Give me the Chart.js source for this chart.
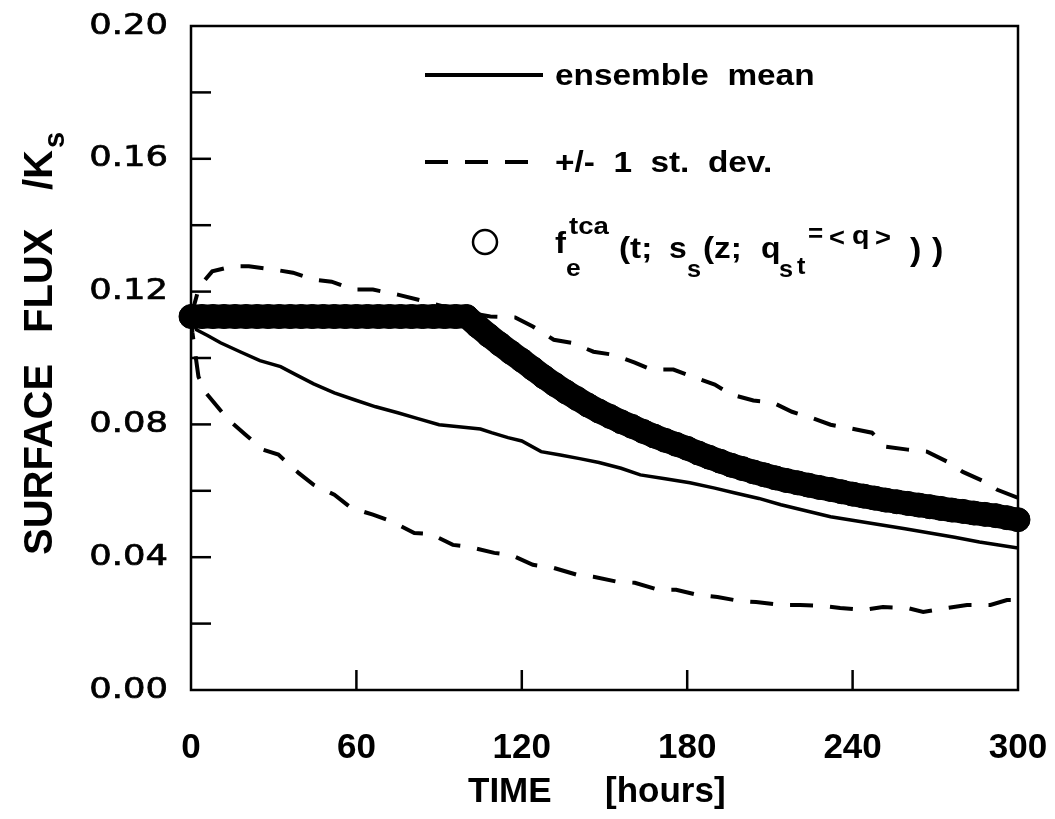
<!DOCTYPE html>
<html lang="en">
<head>
<meta charset="UTF-8">
<title>Surface flux / Ks versus time</title>
<script src="https://cdn.jsdelivr.net/npm/chart.js"></script>
<style>
body { margin: 0; background: #fff; }
#wrap { width: 1055px; height: 819px; }
</style>
</head>
<body>
<div id="wrap"><canvas id="fluxChart" width="1055" height="819"></canvas></div>
<script>
// axis tick labels
const timeTicks = [0, 60, 120, 180, 240, 300];
const fluxTicks = [0.00, 0.04, 0.08, 0.12, 0.16, 0.20];

// ensemble mean (solid)
const meanTime = [0, 2, 6, 10.7, 18, 25, 32.5, 38, 44.5, 52, 59, 67, 75, 82, 90, 98, 105, 109, 115, 120,
  127, 134, 141, 148, 156, 163, 172, 181, 190, 197, 206, 214, 223, 232, 241, 250, 259, 268, 277, 286, 293, 300];
const meanFlux = [0.1125, 0.1085, 0.1068, 0.1046, 0.1018, 0.0992, 0.0974, 0.0950, 0.0922, 0.0895, 0.0875,
  0.0853, 0.0835, 0.0818, 0.0799, 0.0792, 0.0786, 0.0775, 0.0760, 0.0750, 0.0718, 0.0708, 0.0697, 0.0685,
  0.0668, 0.0648, 0.0636, 0.0624, 0.0608, 0.0594, 0.0577, 0.0558, 0.0540, 0.0522, 0.0510, 0.0498, 0.0486,
  0.0473, 0.0460, 0.0446, 0.0437, 0.0428];

// mean + 1 st. dev. (dashed)
const upperTime = [0, 3, 7.7, 15, 21, 29.6, 37, 44.5, 51, 59, 66, 75, 85, 95, 102, 108.6, 117.6, 124, 131.6,
  138, 146, 153, 161, 167, 175, 182, 190, 196, 204, 211, 218, 225, 232, 238, 247, 252, 260, 267, 275, 280,
  288, 292.5, 300];
const upperFlux = [0.1125, 0.1215, 0.1261, 0.1276, 0.1276, 0.1267, 0.1257, 0.1236, 0.1230, 0.1206, 0.1206,
  0.1191, 0.1170, 0.1148, 0.1135, 0.1125, 0.1122, 0.1095, 0.1055, 0.1046, 0.1019, 0.1010, 0.0986, 0.0965,
  0.0965, 0.0944, 0.0920, 0.0890, 0.0872, 0.0866, 0.0838, 0.0820, 0.0799, 0.0790, 0.0775, 0.0733, 0.0724,
  0.0718, 0.0685, 0.0657, 0.0627, 0.0603, 0.0579];

// mean - 1 st. dev. (dashed)
const lowerTime = [0, 0.5, 1.6, 2.7, 5.3, 9.6, 13.6, 19.8, 26, 31.7, 39, 44.5, 52, 58, 66, 73, 81, 87, 95,
  101, 110, 116, 124, 131.5, 140, 146, 154.6, 161, 169.5, 176, 184, 191, 199, 205, 214, 221, 229, 235.5,
  244, 251, 260, 265.6, 274, 281.5, 290, 296, 300];
const lowerFlux = [0.1125, 0.1077, 0.1010, 0.0944, 0.0896, 0.0853, 0.0814, 0.0769, 0.0724, 0.0709, 0.0654,
  0.0618, 0.0588, 0.0549, 0.0528, 0.0507, 0.0473, 0.0470, 0.0437, 0.0431, 0.0413, 0.0407, 0.0377, 0.0368,
  0.0347, 0.0341, 0.0326, 0.0323, 0.0302, 0.0302, 0.0286, 0.0280, 0.0268, 0.0265, 0.0256, 0.0256, 0.0253,
  0.0247, 0.0241, 0.0250, 0.0247, 0.0235, 0.0247, 0.0256, 0.0256, 0.0271, 0.0271];

// f_e^tca (circles), every 4 hours
const tcaTime = [0, 4, 8, 12, 16, 20, 24, 28, 32, 36, 40, 44, 48, 52, 56, 60, 64, 68, 72, 76, 80, 84, 88, 92,
  96, 100, 104, 108, 112, 116, 120, 124, 128, 132, 136, 140, 144, 148, 152, 156, 160, 164, 168, 172, 176,
  180, 184, 188, 192, 196, 200, 204, 208, 212, 216, 220, 224, 228, 232, 236, 240, 244, 248, 252, 256, 260,
  264, 268, 272, 276, 280, 284, 288, 292, 296, 300];
const tcaFlux = [0.1125, 0.1125, 0.1125, 0.1125, 0.1125, 0.1125, 0.1125, 0.1125, 0.1125, 0.1125, 0.1125,
  0.1125, 0.1125, 0.1125, 0.1125, 0.1125, 0.1125, 0.1125, 0.1125, 0.1125, 0.1125, 0.1125, 0.1125, 0.1125,
  0.1125, 0.1125, 0.1096, 0.1068, 0.1042, 0.1017, 0.0993, 0.0968, 0.0943, 0.0920, 0.0898, 0.0878, 0.0858,
  0.0840, 0.0824, 0.0808, 0.0794, 0.0779, 0.0765, 0.0752, 0.0740, 0.0728, 0.0714, 0.0701, 0.0689, 0.0677,
  0.0667, 0.0657, 0.0648, 0.0639, 0.0631, 0.0624, 0.0617, 0.0610, 0.0604, 0.0597, 0.0590, 0.0584, 0.0578,
  0.0572, 0.0567, 0.0562, 0.0557, 0.0552, 0.0547, 0.0542, 0.0538, 0.0533, 0.0529, 0.0525, 0.0519, 0.0513];

function pts(ts, vs) {
  return ts.map((t, i) => ({ x: t, y: vs[i] }));
}

// a piece of text, stretched a little sideways like the original lettering
function put(ctx, text, x, y, font, sx) {
  ctx.save();
  ctx.translate(x, y);
  ctx.scale(sx || 1, 1);
  ctx.font = font;
  ctx.textAlign = 'left';
  ctx.textBaseline = 'alphabetic';
  ctx.fillText(text, 0, 0);
  ctx.restore();
}

const SANS = '"Liberation Sans", Arial, sans-serif';

const frame = {
  id: 'frame',
  beforeDatasetsDraw(chart) {
    const { ctx, chartArea: a, scales: { x, y } } = chart;
    ctx.save();
    ctx.strokeStyle = '#000';
    ctx.lineWidth = 2.5;
    ctx.strokeRect(a.left, a.top, a.right - a.left, a.bottom - a.top);
    // inward ticks
    y.ticks.forEach(t => {
      if (t.value <= 0 || t.value >= 0.2) return;
      const py = y.getPixelForValue(t.value);
      ctx.beginPath(); ctx.moveTo(a.left, py); ctx.lineTo(a.left + 20, py); ctx.stroke();
    });
    x.ticks.forEach(t => {
      if (t.value <= 0 || t.value >= 300) return;
      const px = x.getPixelForValue(t.value);
      ctx.beginPath(); ctx.moveTo(px, a.bottom); ctx.lineTo(px, a.bottom - 20); ctx.stroke();
    });
    ctx.restore();
  },
  afterDraw(chart) {
    const { ctx, scales: { x, y } } = chart;
    ctx.save();
    ctx.fillStyle = '#000';

    // y tick labels
    fluxTicks.forEach(v => {
      const py = y.getPixelForValue(v);
      ctx.save();
      ctx.translate(168, py);
      ctx.scale(1.22, 1);
      ctx.font = '29px "DejaVu Sans", sans-serif';
      ctx.textAlign = 'right';
      ctx.textBaseline = 'middle';
      ctx.lineWidth = 0.7;
      ctx.strokeStyle = '#000';
      ctx.fillText(v.toFixed(2), 0, 0);
      ctx.strokeText(v.toFixed(2), 0, 0);
      ctx.restore();
    });

    // x tick labels
    ctx.font = 'bold 35px ' + SANS;
    ctx.textAlign = 'center';
    ctx.textBaseline = 'alphabetic';
    timeTicks.forEach(t => {
      ctx.fillText(String(t), x.getPixelForValue(t), 758);
    });

    // axis titles
    put(ctx, 'TIME', 468, 802, 'bold 35px ' + SANS);
    put(ctx, '[hours]', 605, 802, 'bold 35px ' + SANS);

    ctx.save();
    ctx.translate(52, 555);
    ctx.rotate(-Math.PI / 2);
    const big = 'bold 40px ' + SANS;
    put(ctx, 'SURFACE', 0, 0, big);
    put(ctx, 'FLUX', 222, 0, big);
    put(ctx, '/K', 365, 0, big);
    put(ctx, 's', 407, 12, 'bold 29px ' + SANS);
    ctx.restore();

    // legend
    ctx.strokeStyle = '#000';
    ctx.lineWidth = 4;
    ctx.beginPath(); ctx.moveTo(425, 75); ctx.lineTo(543, 75); ctx.stroke();
    ctx.setLineDash([23, 17]);
    ctx.beginPath(); ctx.moveTo(425, 162); ctx.lineTo(543, 162); ctx.stroke();
    ctx.setLineDash([]);
    ctx.lineWidth = 2.5;
    ctx.beginPath(); ctx.arc(485, 242, 12, 0, Math.PI * 2); ctx.stroke();

    const f29 = 'bold 29px ' + SANS;
    const f23 = 'bold 23px ' + SANS;
    const f26 = 'bold 26px ' + SANS;
    put(ctx, 'ensemble  mean', 555, 85, f29, 1.15);
    put(ctx, '+/-  1  st.  dev.', 555, 172, f29, 1.15);

    put(ctx, 'f', 555, 253, 'bold 30px ' + SANS, 1.1);
    put(ctx, 'e', 566, 276, f23, 1.15);
    put(ctx, 'tca', 569, 234, f23, 1.2);
    put(ctx, '(t;', 619, 258, f29, 1.15);
    put(ctx, 's', 669, 258, f29, 1.1);
    put(ctx, 's', 687, 277, f23, 1.1);
    put(ctx, '(z;', 703, 258, f29, 1.15);
    put(ctx, 'q', 761, 258, f29, 1.1);
    put(ctx, 's', 779, 277, f23, 1.1);
    put(ctx, 't', 797, 274, f23, 1.1);
    put(ctx, '=', 808, 242, f26, 1.0);
    put(ctx, '<', 829, 246, f26, 1.05);
    put(ctx, 'q', 852, 244, f26, 1.1);
    put(ctx, '>', 875, 246, f26, 1.05);
    put(ctx, ')', 910, 260, 'bold 31px ' + SANS, 1.1);
    put(ctx, ')', 932, 260, 'bold 31px ' + SANS, 1.1);

    ctx.restore();
  }
};

const ctx = document.getElementById('fluxChart').getContext('2d');
new Chart(ctx, {
  type: 'line',
  data: {
    datasets: [
      {
        label: 'f_e^tca',
        data: pts(tcaTime, tcaFlux),
        showLine: true,
        borderColor: '#000',
        borderWidth: 24,
        borderCapStyle: 'round',
        borderJoinStyle: 'round',
        tension: 0,
        pointRadius: 12,
        pointBorderWidth: 1,
        pointBackgroundColor: '#000',
        pointBorderColor: '#000',
        clip: false,
        order: 0
      },
      {
        label: 'ensemble mean',
        data: pts(meanTime, meanFlux),
        borderColor: '#000',
        borderWidth: 3.5,
        pointRadius: 0,
        tension: 0,
        order: 1
      },
      {
        label: '+1 st. dev.',
        data: pts(upperTime, upperFlux),
        borderColor: '#000',
        borderWidth: 4,
        borderDash: [23, 17],
        pointRadius: 0,
        tension: 0,
        order: 1
      },
      {
        label: '-1 st. dev.',
        data: pts(lowerTime, lowerFlux),
        borderColor: '#000',
        borderWidth: 4,
        borderDash: [23, 17],
        pointRadius: 0,
        tension: 0,
        order: 1
      }
    ]
  },
  options: {
    responsive: false,
    animation: false,
    devicePixelRatio: 1,
    layout: { padding: { top: 26, right: 37, left: 0, bottom: 0 } },
    plugins: {
      legend: { display: false },
      tooltip: { enabled: false }
    },
    scales: {
      x: {
        type: 'linear',
        min: 0,
        max: 300,
        grid: { display: false, drawTicks: false },
        border: { display: false },
        ticks: { display: false, stepSize: 60 },
        afterFit(scale) { scale.height = 129; }
      },
      y: {
        type: 'linear',
        min: 0,
        max: 0.2,
        grid: { display: false, drawTicks: false },
        border: { display: false },
        ticks: { display: false, stepSize: 0.02 },
        afterFit(scale) { scale.width = 191; }
      }
    }
  },
  plugins: [frame]
});
</script>
</body>
</html>
